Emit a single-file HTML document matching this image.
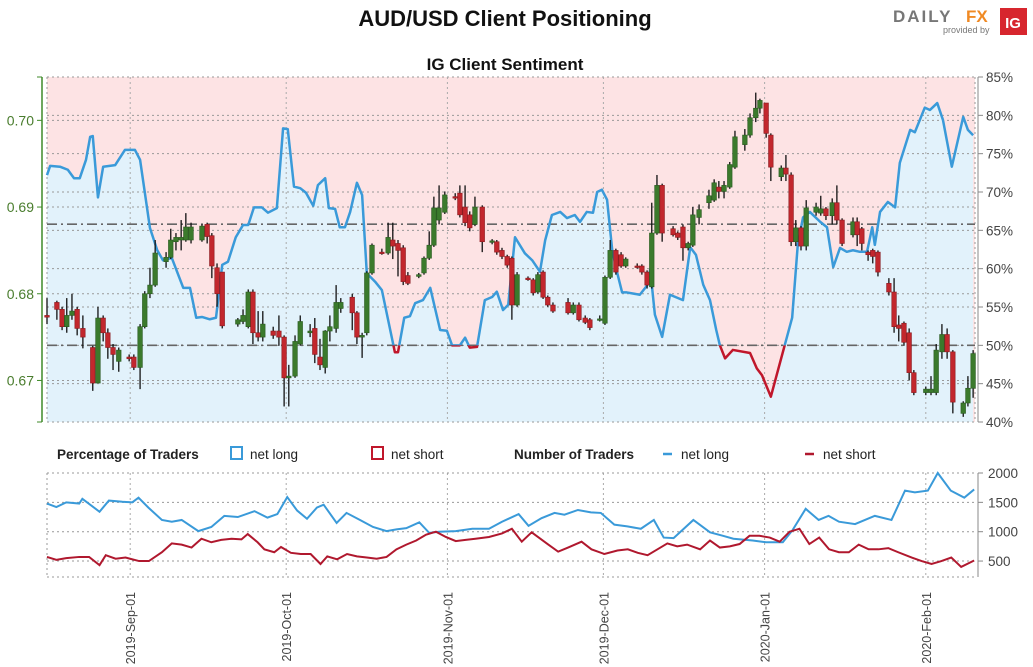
<!DOCTYPE html>
<html><head><meta charset="utf-8"><style>
html,body{margin:0;padding:0;background:#fff;}
svg{display:block;font-family:"Liberation Sans",sans-serif;}
</style></head><body>
<svg id="chart" width="1033" height="667" viewBox="0 0 1033 667" xmlns="http://www.w3.org/2000/svg">
<text x="505" y="26" text-anchor="middle" font-size="22" font-weight="bold" fill="#111">AUD/USD Client Positioning</text>
<g>
<text x="893" y="22" font-size="17" font-weight="bold" fill="#777" letter-spacing="2">DAILY</text>
<text x="966" y="22" font-size="17" font-weight="bold" fill="#f08a24">FX</text>
<text x="943" y="33" font-size="9" fill="#777">provided by</text>
<rect x="1000" y="8" width="27" height="27" fill="#d7262e"/>
<text x="1013" y="28" text-anchor="middle" font-size="15" font-weight="bold" fill="#fff">IG</text>
</g>
<text x="505" y="70" text-anchor="middle" font-size="17" font-weight="bold" fill="#111">IG Client Sentiment</text>
<g id="main"></g>
<g id="legend">
<text x="57" y="459" font-size="13.5" font-weight="bold" fill="#222">Percentage of Traders</text>
<rect x="231" y="447" width="11" height="12" fill="none" stroke="#3a9ad9" stroke-width="2"/>
<text x="250" y="459" font-size="13.5" fill="#222">net long</text>
<rect x="372" y="447" width="11" height="12" fill="none" stroke="#c0172b" stroke-width="2"/>
<text x="391" y="459" font-size="13.5" fill="#222">net short</text>
<text x="514" y="459" font-size="13.5" font-weight="bold" fill="#222">Number of Traders</text>
<line x1="663" y1="454" x2="672" y2="454" stroke="#3a9ad9" stroke-width="2.5"/>
<text x="681" y="459" font-size="13.5" fill="#222">net long</text>
<line x1="805" y1="454" x2="814" y2="454" stroke="#b0182e" stroke-width="2.5"/>
<text x="823" y="459" font-size="13.5" fill="#222">net short</text>
</g>
<g id="lower"></g>
</svg>
<script>
// day index since 2019-08-16
const sentDays=[0,0.6,2.5,4.0,5.2,6.3,7.5,8.3,8.8,9.8,10.8,13.1,15.0,16.9,17.9,19.8,21.2,22.3,24.0,26.2,27.5,28.7,29.8,31.3,32.5,33.7,34.8,36.3,37.7,38.7,39.8,41.3,42.5,44.2,45.4,46.3,47.5,48.7,49.8,51.2,52.1,53.5,54.2,55.4,56.3,57.3,58.3,59.6,60.6,61.5,63.1,64.4,66.9,67.5,68.7,69.8,70.8,72.3,73.7,75.6,76.9,77.9,79.4,80.4,81.3,82.7,84.2,85.6,86.5,87.7,88.7,90.0,91.9,93.3,94.8,95.8,97.1,98.7,100.0,101.5,102.5,103.8,105.0,105.8,106.7,107.7,108.7,109.6,110.6,111.5,114.0,115.4,116.0,116.9,118.3,119.8,122.3,123.7,124.8,126.2,127.5,128.7,129.4,130.4,131.9,135.2,136.5,137.5,139.2,142.3,143.3,144.4,145.4,146.7,148.7,150.0,151.2,152.5,153.8,155.0,156.3,157.7,158.7,159.2,160.2,161.7,163.1,164.0,166.0,166.9,168.8,169.8,171.2,172.3,174.0,176.2,177.1,178.1];
const sentPct=[72.2,73.4,73.3,72.9,71.8,71.8,74.2,77.2,77.3,69.3,73.3,73.5,75.5,75.5,74.2,65.3,62.4,61.1,61.4,57.5,57.5,53.6,53.7,53.4,53.6,60.5,60.9,64.1,65.7,65.7,68.0,68.0,67.3,67.9,78.3,78.2,70.7,70.5,69.9,68.2,70.9,71.8,67.9,67.8,65.4,65.4,67.4,71.2,69.6,59.4,58.3,57.2,49.1,49.1,53.6,53.8,55.5,55.9,57.5,52.0,51.9,50.0,50.0,51.0,49.7,49.8,55.9,56.3,57.0,54.6,55.3,64.1,62.0,61.1,59.6,63.7,67.0,67.4,66.6,67.0,66.1,67.4,67.3,70.0,70.3,69.0,62.4,59.6,56.9,56.9,56.6,57.8,59.9,54.0,51.1,56.6,55.9,62.8,61.8,57.9,55.9,52.0,50.0,48.3,49.4,49.0,47.0,46.1,43.3,51.1,53.6,63.3,66.7,67.4,66.1,65.4,60.2,62.7,62.2,62.4,62.2,62.2,65.4,63.1,67.4,68.7,68.0,73.8,78.1,77.8,81.0,80.7,81.6,79.4,73.3,79.8,78.1,77.4];
const candleDays=[0,1.9,2.9,3.8,4.8,5.8,6.9,8.8,9.8,10.8,11.7,12.7,13.8,15.8,16.7,17.9,18.8,19.8,20.8,22.9,23.8,24.8,25.8,26.7,27.7,29.8,30.8,31.7,32.7,33.7,36.7,37.7,38.7,39.6,40.6,41.5,43.5,44.6,45.6,46.5,47.7,48.7,50.6,51.5,52.5,53.5,54.4,55.6,56.5,58.7,59.6,60.6,61.5,62.5,64.4,65.6,66.5,67.5,68.5,69.4,71.5,72.5,73.5,74.4,75.4,76.5,78.5,79.4,80.4,81.3,82.3,83.7,85.6,86.5,87.5,88.5,89.4,90.4,92.5,93.5,94.4,95.4,96.3,97.3,100.2,101.2,102.3,103.5,104.4,106.3,107.3,108.3,109.4,110.4,111.3,113.5,114.4,115.4,116.3,117.3,118.3,120.4,121.3,122.3,123.3,124.2,125.4,127.3,128.3,129.2,130.2,131.3,132.3,134.2,135.2,136.3,137.1,138.3,139.2,141.2,142.1,143.1,144.0,145.0,146.0,147.9,148.8,149.8,151.0,151.9,152.9,155.0,155.8,156.7,157.9,158.8,159.8,161.9,162.9,163.8,164.8,165.8,166.7,169.0,170.0,171.0,172.1,173.1,174.2,176.2,177.1,178.1];
const opens=[.6775,.6790,.6782,.6762,.6775,.6782,.6760,.6738,.6697,.6772,.6755,.6738,.6722,.6727,.6727,.6715,.6762,.6800,.6810,.6837,.6842,.6860,.6862,.6862,.6862,.6862,.6880,.6867,.6830,.6825,.6765,.6768,.6762,.6802,.6755,.6750,.6757,.6757,.6750,.6703,.6705,.6742,.6755,.6760,.6727,.6715,.6757,.6760,.6783,.6796,.6778,.6750,.6755,.6824,.6848,.6847,.6862,.6858,.6853,.6821,.6820,.6824,.6841,.6856,.6885,.6894,.6912,.6916,.6900,.6891,.6880,.6900,.6860,.6860,.6850,.6843,.6841,.6787,.6818,.6816,.6802,.6825,.6796,.6787,.6790,.6778,.6787,.6772,.6770,.6770,.6766,.6819,.6850,.6845,.6832,.6832,.6832,.6825,.6808,.6870,.6925,.6875,.6870,.6877,.6853,.6856,.6888,.6905,.6908,.6923,.6918,.6923,.6946,.6972,.6983,.7003,.7014,.7020,.6983,.6935,.6945,.6937,.6860,.6876,.6855,.6894,.6893,.6898,.6890,.6905,.6885,.6868,.6883,.6875,.6848,.6850,.6848,.6812,.6802,.6764,.6766,.6755,.6709,.6686,.6686,.6686,.6733,.6753,.6733,.6662,.6674,.6691];
const closes=[.6773,.6782,.6762,.6775,.6780,.6760,.6750,.6697,.6772,.6755,.6738,.6730,.6735,.6725,.6715,.6762,.6800,.6810,.6847,.6842,.6862,.6865,.6865,.6877,.6877,.6878,.6866,.6832,.6800,.6763,.6770,.6775,.6802,.6755,.6750,.6765,.6752,.6750,.6703,.6705,.6745,.6768,.6757,.6730,.6718,.6757,.6762,.6790,.6790,.6778,.6750,.6752,.6824,.6856,.6847,.6865,.6855,.6850,.6814,.6812,.6822,.6841,.6856,.6899,.6899,.6914,.6911,.6891,.6882,.6876,.6900,.6860,.6861,.6848,.6843,.6833,.6787,.6822,.6817,.6801,.6822,.6796,.6787,.6780,.6778,.6787,.6770,.6767,.6761,.6771,.6819,.6850,.6825,.6832,.6840,.6831,.6825,.6810,.6870,.6925,.6870,.6868,.6865,.6853,.6858,.6891,.6897,.6913,.6928,.6918,.6925,.6949,.6981,.6983,.7003,.7014,.7023,.6985,.6946,.6945,.6938,.6860,.6876,.6855,.6899,.6900,.6898,.6890,.6905,.6885,.6858,.6883,.6868,.6858,.6845,.6843,.6825,.6802,.6762,.6760,.6744,.6709,.6686,.6690,.6690,.6735,.6753,.6733,.6675,.6674,.6691,.6731];
const highs=[.6795,.6792,.6785,.6795,.6800,.6785,.6775,.6740,.6785,.6775,.6760,.6742,.6738,.6730,.6730,.6765,.6803,.6830,.6862,.6848,.6875,.6870,.6885,.6893,.6882,.6880,.6882,.6870,.6835,.6825,.6772,.6782,.6805,.6805,.6780,.6780,.6762,.6775,.6752,.6718,.6752,.6775,.6765,.6772,.6748,.6758,.6775,.6810,.6795,.6800,.6780,.6755,.6826,.6858,.6852,.6882,.6882,.6862,.6856,.6825,.6824,.6843,.6872,.6912,.6925,.6918,.6916,.6925,.6925,.6895,.6912,.6902,.6863,.6862,.6853,.6845,.6843,.6825,.6820,.6818,.6825,.6827,.6798,.6790,.6795,.6790,.6790,.6775,.6772,.6775,.6821,.6862,.6852,.6848,.6842,.6835,.6834,.6827,.6905,.6937,.6927,.6878,.6872,.6880,.6860,.6900,.6903,.6920,.6932,.6930,.6930,.6952,.6988,.6990,.7008,.7032,.7025,.7020,.6985,.6948,.6960,.6940,.6885,.6878,.6908,.6905,.6913,.6900,.6910,.6925,.6887,.6888,.6888,.6877,.6850,.6852,.6850,.6818,.6818,.6775,.6768,.6760,.6712,.6693,.6705,.6742,.6765,.6760,.6735,.6676,.6705,.6735];
const lows=[.6765,.6770,.6758,.6755,.6770,.6752,.6737,.6688,.6697,.6745,.6725,.6712,.6710,.6722,.6712,.6690,.6760,.6795,.6808,.6830,.6840,.6850,.6850,.6860,.6858,.6860,.6858,.6818,.6785,.6760,.6762,.6765,.6760,.6742,.6745,.6745,.6748,.6740,.6670,.6670,.6703,.6740,.6750,.6720,.6712,.6708,.6745,.6755,.6778,.6758,.6742,.6726,.6752,.6822,.6845,.6845,.6840,.6820,.6810,.6810,.6818,.6822,.6839,.6854,.6880,.6892,.6908,.6888,.6878,.6872,.6878,.6848,.6857,.6845,.6840,.6830,.6770,.6785,.6815,.6798,.6800,.6794,.6785,.6778,.6776,.6776,.6768,.6765,.6758,.6768,.6764,.6817,.6822,.6830,.6830,.6829,.6822,.6806,.6806,.6868,.6860,.6866,.6862,.6838,.6850,.6854,.6880,.6898,.6906,.6910,.6910,.6921,.6944,.6965,.6980,.6998,.7008,.6980,.6930,.6930,.6930,.6855,.6855,.6850,.6850,.6890,.6890,.6885,.6880,.6880,.6855,.6865,.6855,.6850,.6838,.6835,.6820,.6798,.6755,.6745,.6740,.6700,.6683,.6683,.6683,.6683,.6725,.6725,.6662,.6658,.6670,.6680];
const priceTicks=[0.67,0.68,0.69,0.70];
const pctTicks=[40,45,50,55,60,65,70,75,80,85];
const dateTickDays=[16,46,77,107,138,169];
const dateTickLabels=["2019-Sep-01","2019-Oct-01","2019-Nov-01","2019-Dec-01","2020-Jan-01","2020-Feb-01"];
const refPcts=[50,65.8];
const countTicks=[500,1000,1500,2000];
const longDays=[0,1.8,3.7,6.2,6.8,10.1,11.9,14.5,16.4,17.6,19.5,22.1,24,25.9,29.1,31.6,34.1,36.7,39.9,42.4,44.3,46.2,48.1,50,51.9,53.2,55.7,57.6,60.2,62.7,65.3,67.2,69.1,71.6,73.5,75.4,78.6,81.8,85,87.5,90.7,92.6,95.1,97.6,99.5,102.1,104.6,106.5,109.1,111.6,114.2,116.7,118.6,120.5,124.3,127.5,130,132,135.7,138.3,141.5,143.4,145.9,148.4,150.3,152.3,155.4,159.2,162.4,165,166.9,169.4,171.3,173.8,176.4,178.3];
const longCounts=[1480,1420,1500,1480,1560,1340,1530,1510,1500,1580,1410,1200,1170,1200,1010,1080,1270,1250,1350,1240,1300,1590,1360,1220,1410,1460,1150,1320,1200,1080,1010,1040,1060,1160,980,1000,1010,1050,1050,1170,1300,1100,1230,1320,1290,1370,1330,1320,1120,1090,1050,1200,900,890,1200,990,930,880,850,820,820,1030,1390,1200,1270,1170,1130,1270,1200,1700,1670,1700,2000,1700,1580,1720];
const shortDays=[0,1.8,3.7,6.2,8.1,10.1,11.3,13.2,15.1,17.7,19.6,22.1,24,25.9,27.8,29.7,31.6,33.5,35.5,37.4,38.6,40.5,41.8,43.7,45,46.9,48.8,50.7,52.6,53.9,55.8,57.7,59.6,61.5,63.4,65.3,67.2,69.1,71,72.9,74.8,76.7,78.6,80.5,82.4,85,87.5,89.4,91.3,93.2,96.4,98.3,100.2,102.8,104.7,107.2,109.7,111.7,113.6,115.5,117.4,119.3,121.2,123.1,125.6,127.5,129.4,131.3,133.2,135.1,137,139,140.9,142.8,144.7,146.6,148.5,150.4,152.3,154.2,156.1,158,159.9,161.8,163.7,166.3,168.2,170.1,172,173.9,175.8,178.3];
const shortCounts=[570,520,550,570,570,430,600,540,560,500,500,650,800,780,730,880,820,860,880,870,960,820,700,650,740,640,620,620,450,580,530,620,580,560,540,570,700,780,850,950,1000,910,840,860,880,910,970,1050,830,990,780,660,730,830,700,620,680,700,640,600,700,800,750,780,700,850,730,750,790,930,930,900,830,1000,1050,790,900,700,650,650,780,700,700,720,650,560,500,450,500,560,400,510];

const NS="http://www.w3.org/2000/svg";
const X0=47,X1=975,PX=5.2;
const xd=d=>X0+d*PX;
const Y0=77,Y1=422;
const yp=p=>Y1-(p-40)*(Y1-Y0)/45;
const yPrice=v=>Y0+(0.705-v)*8670;
const LY0=473,LY1=577;
const yc=v=>LY0+(2000-v)*0.0587;
function mk(tag,attrs,parent){const e=document.createElementNS(NS,tag);for(const k in attrs)e.setAttribute(k,attrs[k]);parent.appendChild(e);return e;}
const main=document.getElementById('main');
const lower=document.getElementById('lower');

const bgTop=mk('rect',{x:X0,y:Y0,width:X1-X0,height:Y1-Y0,fill:'#fde3e4'},main);


let pts=sentDays.map((d,i)=>xd(d)+','+yp(sentPct[i]));
const below=mk('polygon',{points:xd(sentDays[0])+','+Y1+' '+pts.join(' ')+' '+xd(sentDays[sentDays.length-1])+','+Y1,fill:'#e2f2fb'},main);



function dotH(y,parent,x0,x1){mk('line',{x1:x0,y1:y,x2:x1,y2:y,stroke:'#999','stroke-width':1,'stroke-dasharray':'2,3'},parent);}
priceTicks.forEach(v=>dotH(yPrice(v),main,X0,X1));
pctTicks.forEach(p=>dotH(yp(p),main,X0,X1));
dateTickDays.forEach(d=>{mk('line',{x1:xd(d),y1:Y0,x2:xd(d),y2:Y1,stroke:'#aaa','stroke-dasharray':'2,3'},main);mk('line',{x1:xd(d),y1:LY0,x2:xd(d),y2:LY1,stroke:'#aaa','stroke-dasharray':'2,3'},lower);});
mk('line',{x1:X0,y1:Y0,x2:X0,y2:Y1,stroke:'#999','stroke-dasharray':'2,3'},main);
mk('line',{x1:X1,y1:Y0,x2:X1,y2:Y1,stroke:'#999','stroke-dasharray':'2,3'},main);
refPcts.forEach(p=>{const l=mk('line',{x1:X0,y1:yp(p),x2:X1,y2:yp(p),stroke:'#666','stroke-width':1.6,'stroke-dasharray':'10,4,2,4'},main);

});

const defs=mk('defs',{},main);
const cA=mk('clipPath',{id:'ca'},defs);mk('rect',{x:0,y:0,width:1033,height:yp(50)},cA);
const cB=mk('clipPath',{id:'cb'},defs);mk('rect',{x:0,y:yp(50),width:1033,height:400},cB);
const lA=mk('polyline',{points:pts.join(' '),fill:'none',stroke:'#3a9ad9','stroke-width':2.5,'stroke-linejoin':'round','clip-path':'url(#ca)'},main);


const lB=mk('polyline',{points:pts.join(' '),fill:'none',stroke:'#c0172b','stroke-width':2.5,'stroke-linejoin':'round','clip-path':'url(#cb)'},main);



candleDays.forEach((d,i)=>{
  const g=mk('g',{},main);
  
  
  const x=xd(d),o=opens[i],c=closes[i];
  mk('line',{x1:x,y1:yPrice(highs[i]),x2:x,y2:yPrice(lows[i]),stroke:'#111','stroke-width':1.3},g);
  const up=c>=o;const top=yPrice(Math.max(o,c)),bot=yPrice(Math.min(o,c));
  mk('rect',{x:x-2.3,y:top,width:4.6,height:Math.max(1.5,bot-top),fill:up?'#3b7a2c':'#c2272d',stroke:up?'#2a5a20':'#8a1a1f','stroke-width':0.6},g);
});

const la=mk('line',{x1:42,y1:Y0,x2:42,y2:Y1,stroke:'#3f8a28','stroke-width':1.5},main);


mk('line',{x1:37,y1:Y0,x2:42,y2:Y0,stroke:'#3f8a28'},main);
mk('line',{x1:37,y1:Y1,x2:42,y2:Y1,stroke:'#3f8a28'},main);
priceTicks.forEach(v=>{mk('line',{x1:37,y1:yPrice(v),x2:42,y2:yPrice(v),stroke:'#3f8a28'},main);
const t=mk('text',{x:34,y:yPrice(v)+5,'text-anchor':'end','font-size':14,fill:'#4a7d2e'},main);t.textContent=v.toFixed(2);

});
mk('line',{x1:978,y1:Y0,x2:978,y2:Y1,stroke:'#888'},main);
pctTicks.forEach(p=>{mk('line',{x1:978,y1:yp(p),x2:983,y2:yp(p),stroke:'#888'},main);
const t=mk('text',{x:986,y:yp(p)+5,'font-size':13.5,fill:'#444'},main);t.textContent=p+'%';

});

dotH(LY0,lower,X0,X1);dotH(LY1,lower,X0,X1);
countTicks.forEach(v=>dotH(yc(v),lower,X0,X1));
mk('line',{x1:X0,y1:LY0,x2:X0,y2:LY1,stroke:'#999','stroke-dasharray':'2,3'},lower);
mk('line',{x1:978,y1:LY0,x2:978,y2:LY1,stroke:'#888'},lower);
countTicks.forEach(v=>{mk('line',{x1:978,y1:yc(v),x2:983,y2:yc(v),stroke:'#888'},lower);
const t=mk('text',{x:988,y:yc(v)+5,'font-size':13.5,fill:'#444'},lower);t.textContent=v;

});
const nl=mk('polyline',{points:longDays.map((d,i)=>xd(d)+','+yc(longCounts[i])).join(' '),fill:'none',stroke:'#3a9ad9','stroke-width':2},lower);


const ns=mk('polyline',{points:shortDays.map((d,i)=>xd(d)+','+yc(shortCounts[i])).join(' '),fill:'none',stroke:'#b0182e','stroke-width':2},lower);


dateTickDays.forEach((d,i)=>{const x=xd(d);
const t=mk('text',{x:0,y:0,transform:'translate('+(x+5)+',592) rotate(-90)','text-anchor':'end','font-size':12.5,fill:'#444'},lower);t.textContent=dateTickLabels[i];

});
</script>
</body></html>
